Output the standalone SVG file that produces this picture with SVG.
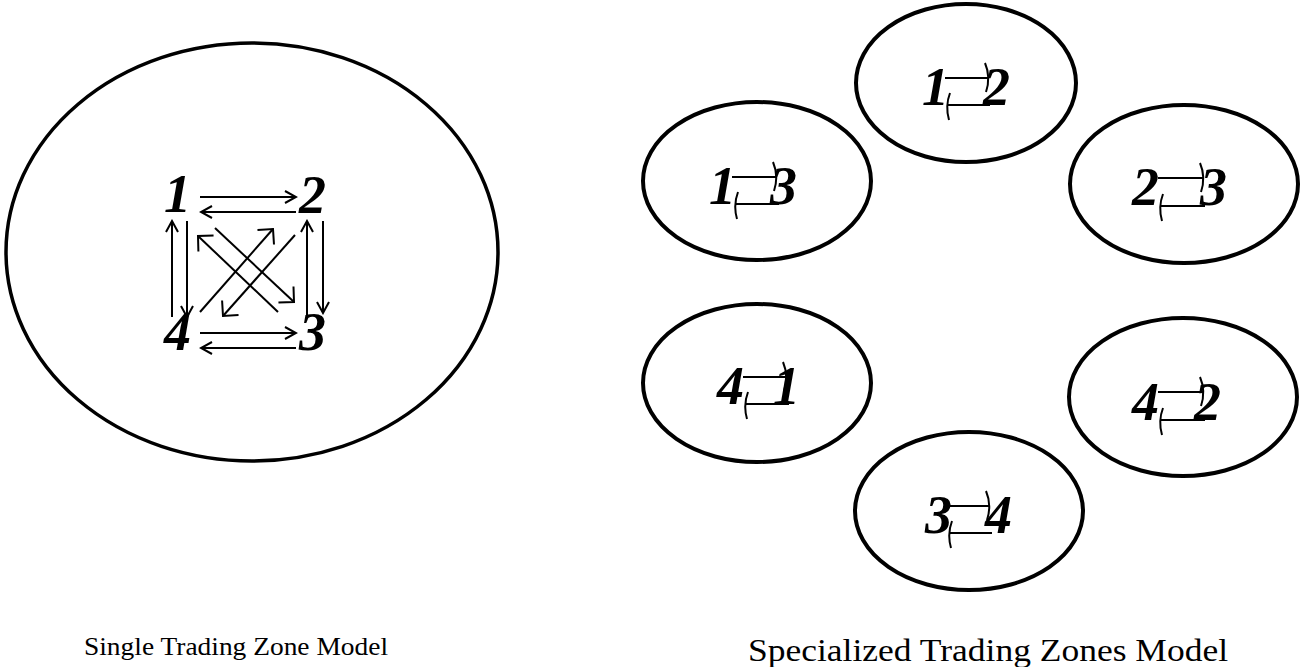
<svg xmlns="http://www.w3.org/2000/svg" width="1301" height="667" viewBox="0 0 1301 667">
<style>
.zone{fill:none;stroke:#000;stroke-width:4}
.big{fill:none;stroke:#000;stroke-width:3.5}
.dig{font-family:"Liberation Serif","Times New Roman",serif;font-weight:bold;font-style:italic;font-size:54px;fill:#000}
.cap{font-family:"Liberation Serif","Times New Roman",serif;fill:#000}
.ln{fill:none;stroke:#000;stroke-width:2}
.ar{fill:none;stroke:#000;stroke-width:2;marker-end:url(#ah)}
.ad{fill:none;stroke:#000;stroke-width:2;marker-end:url(#ahd)}
</style>
<defs>
<marker id="ah" markerUnits="userSpaceOnUse" viewBox="-12 -7 14 14" refX="0" refY="0" markerWidth="14" markerHeight="14" orient="auto">
<path d="M-11,-6 L0,0 L-11,6" fill="none" stroke="#000" stroke-width="2"/>
</marker>
<marker id="ahd" markerUnits="userSpaceOnUse" viewBox="-14 -14 16 28" refX="0" refY="0" markerWidth="16" markerHeight="28" orient="auto">
<path d="M-11,-11 L0,0 L-11,11" fill="none" stroke="#000" stroke-width="2"/>
</marker>
</defs>

<g id="single-zone">
<ellipse class="big" cx="252" cy="252" rx="246" ry="209"/>
</g>
<g id="n1"><text class="dig" x="164" y="212">1</text></g>
<g id="n2"><text class="dig" x="299" y="213">2</text></g>
<g id="n4"><text class="dig" x="164" y="350">4</text></g>
<g id="n3"><text class="dig" x="299" y="350">3</text></g>

<g id="connectors">
<path class="ar" d="M200,197 H296"/>
<path class="ar" d="M296,212 H201"/>
<path class="ar" d="M172,317 V221"/>
<path class="ar" d="M187,221 V317"/>
<path class="ar" d="M307,315 V221"/>
<path class="ar" d="M323,221 V313"/>
<path class="ad" d="M278,312 L198,236"/>
<path class="ad" d="M200,312 L273,229"/>
<path class="ad" d="M215,228 L294,302"/>
<path class="ad" d="M295,235 L223,316"/>
<path class="ar" d="M200,333 H296"/>
<path class="ar" d="M296,348 H201"/>
</g>

<g id="z12">
<ellipse class="zone" cx="966" cy="83" rx="110" ry="79"/>
<text class="dig" x="922" y="105">1</text><text class="dig" x="983" y="105">2</text>
<path class="ln" d="M945,78 H988 M985,63 Q991,77 986,92 M947,105 H990 M950,93 Q945,106 949,120"/>
</g>
<g id="z13">
<ellipse class="zone" cx="757" cy="181" rx="114" ry="79"/>
<text class="dig" x="709" y="204">1</text><text class="dig" x="770" y="204">3</text>
<path class="ln" d="M732,177 H776 M773,162 Q779,176 774,191 M735,204 H779 M738,192 Q733,205 737,219"/>
</g>
<g id="z23">
<ellipse class="zone" cx="1184" cy="184" rx="114" ry="79"/>
<text class="dig" x="1132" y="205">2</text><text class="dig" x="1200" y="205">3</text>
<path class="ln" d="M1158,178 H1203 M1200,163 Q1206,177 1201,192 M1160,206 H1205 M1163,194 Q1158,207 1162,221"/>
</g>
<g id="z41">
<ellipse class="zone" cx="757" cy="383" rx="114" ry="79"/>
<text class="dig" x="717" y="404">4</text><text class="dig" x="773" y="404">1</text>
<path class="ln" d="M743,377 H786 M783,362 Q789,376 784,391 M745,404 H789 M748,392 Q743,405 747,419"/>
</g>
<g id="z42">
<ellipse class="zone" cx="1183" cy="397" rx="114" ry="79"/>
<text class="dig" x="1132" y="420">4</text><text class="dig" x="1194" y="420">2</text>
<path class="ln" d="M1158,392 H1203 M1200,377 Q1206,391 1201,406 M1160,420 H1205 M1163,408 Q1158,421 1162,435"/>
</g>
<g id="z34">
<ellipse class="zone" cx="969" cy="511" rx="114" ry="79"/>
<text class="dig" x="925" y="533">3</text><text class="dig" x="985" y="533">4</text>
<path class="ln" d="M947,506 H989 M986,491 Q992,505 987,520 M949,533 H992 M952,521 Q947,534 951,548"/>
</g>

<text class="cap" x="84" y="655" font-size="26" textLength="304" lengthAdjust="spacingAndGlyphs">Single Trading Zone Model</text>
<text class="cap" x="748" y="661" font-size="31" textLength="480" lengthAdjust="spacingAndGlyphs">Specialized Trading Zones Model</text>
</svg>
